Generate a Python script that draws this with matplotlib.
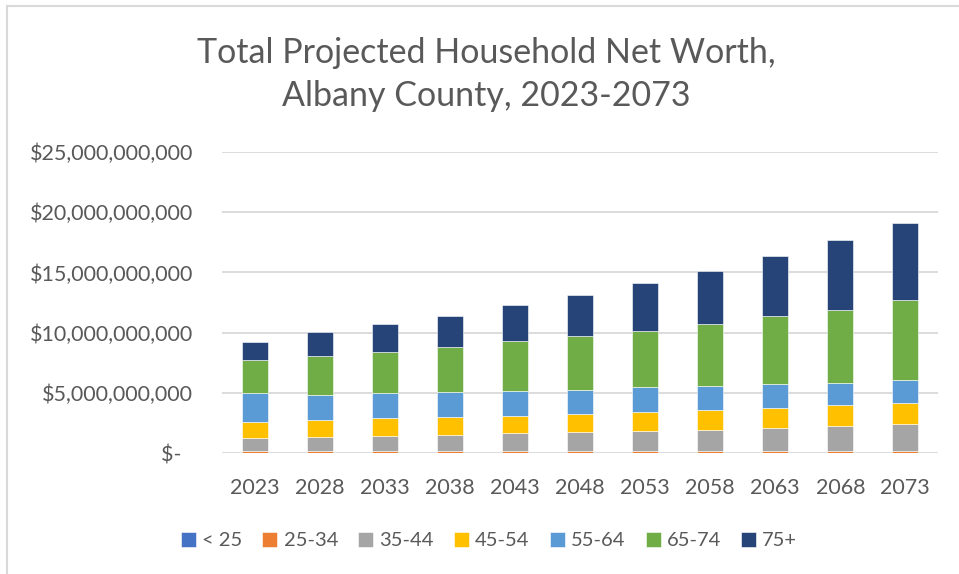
import numpy as np
import matplotlib.pyplot as plt
from matplotlib.lines import Line2D

plt.rcParams['font.family'] = ['Lato', 'DejaVu Sans']

years = ['2023', '2028', '2033', '2038', '2043', '2048', '2053', '2058', '2063', '2068', '2073']
groups = ['< 25', '25-34', '35-44', '45-54', '55-64', '65-74', '75+']
colors = ['#4472C4', '#ED7D31', '#A5A5A5', '#FFC000', '#5B9BD5', '#70AD47', '#264478']

# values in billions of dollars
under25 = [0.02, 0.02, 0.02, 0.02, 0.02, 0.02, 0.02, 0.02, 0.02, 0.02, 0.02]
age25_34 = [0.17, 0.17, 0.17, 0.17, 0.17, 0.17, 0.17, 0.17, 0.17, 0.17, 0.17]
age35_44 = [1.03, 1.14, 1.24, 1.33, 1.44, 1.52, 1.64, 1.75, 1.85, 2.05, 2.19]
age45_54 = [1.32, 1.43, 1.47, 1.46, 1.46, 1.56, 1.58, 1.66, 1.67, 1.72, 1.80]
age55_64 = [2.41, 2.07, 2.05, 2.10, 2.10, 1.99, 2.08, 1.99, 2.03, 1.88, 1.85]
age65_74 = [2.75, 3.23, 3.44, 3.76, 4.09, 4.43, 4.65, 5.10, 5.62, 6.07, 6.66]
age75up = [1.55, 1.99, 2.32, 2.54, 2.98, 3.41, 3.99, 4.46, 4.98, 5.76, 6.43]

series = [under25, age25_34, age35_44, age45_54, age55_64, age65_74, age75up]

txt = '#595959'
fig = plt.figure(figsize=(9.59, 5.74), dpi=100)
ax = fig.add_axes([0.2315, 0.2108, 0.7465, 0.5242])

x = np.arange(len(years))
bottom = np.zeros(len(years))
for vals, name, c in zip(series, groups, colors):
    v = np.array(vals) * 1e9
    ax.bar(x, v, width=0.4, bottom=bottom, color=c, label=name,
           edgecolor='white', linewidth=0.4, zorder=3)
    bottom += v

ax.set_xlim(-0.5, len(years) - 0.5)
ax.set_ylim(0, 25e9)
ticks = np.arange(0, 26e9, 5e9)
ax.set_yticks(ticks)
ax.set_yticklabels(['$-  '] + ['${:,.0f}'.format(t) for t in ticks[1:]])
ax.set_xticks(x)
ax.set_xticklabels(years)
ax.grid(axis='y', color='#D9D9D9', linewidth=1.3, zorder=0)
ax.tick_params(length=0, colors=txt, labelsize=15.5)
ax.tick_params(axis='x', pad=18, labelsize=15.5)
ax.tick_params(axis='y', pad=21)
for s in ax.spines.values():
    s.set_visible(False)

fig.text(0.507, 0.87, 'Total Projected Household Net Worth,\nAlbany County, 2023-2073',
         ha='center', va='center', fontsize=24.5, color=txt, linespacing=1.45)

fig.legend(loc='center', bbox_to_anchor=(0.51, 0.058), ncol=7, frameon=False,
           fontsize=14.5, labelcolor=txt, handlelength=0.75, handleheight=0.75,
           handletextpad=0.3, columnspacing=1.0)

# chart border (top and left only visible in the crop)
fig.add_artist(Line2D([0.007, 1], [0.989, 0.989], color='#D9D9D9', lw=1.5))
fig.add_artist(Line2D([0.007, 0.007], [0, 0.989], color='#D9D9D9', lw=1.5))

fig.savefig('out.png', dpi=100)
